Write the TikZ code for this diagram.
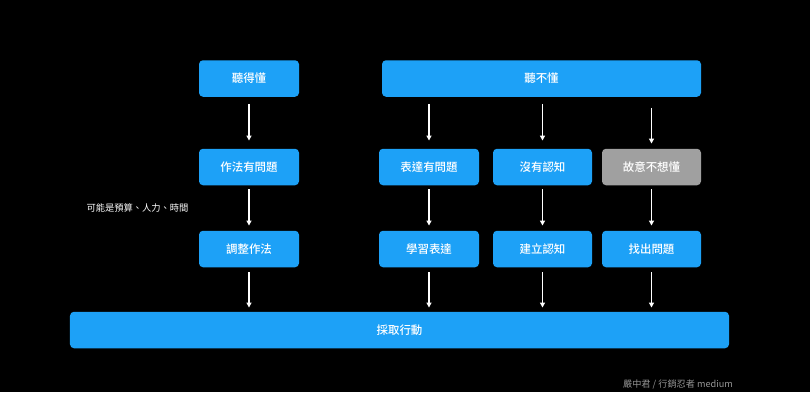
\documentclass[tikz,border=0pt]{standalone}
\usepackage{fontspec}
\setmainfont{Noto Sans CJK TC}
\newfontfamily\medfont{Noto Sans CJK TC Medium}
\usetikzlibrary{arrows.meta}
\definecolor{boxblue}{RGB}{29,161,247}
\definecolor{boxgray}{RGB}{160,160,160}
\definecolor{footgray}{RGB}{150,150,150}
\begin{document}
\begin{tikzpicture}[x=1bp,y=-1bp,
  blk/.style={fill=boxblue,rounded corners=4bp,inner sep=0pt,minimum height=36.5bp,
    text=white,font=\fontsize{11.5}{13}\selectfont\medfont},
  grayblk/.style={blk,fill=boxgray},
  arr/.style={draw=white,line width=1.2bp,-{Triangle[width=5bp,length=5bp]}}]
\fill[black] (0,0) rectangle (810,392);
\useasboundingbox (0,0) rectangle (810,392);
% top row
\node[blk,minimum width=100bp] (dong) at (249,78.5) {聽得懂};
\node[blk,minimum width=319bp] (budong) at (541.5,78.5) {聽不懂};
% middle row
\node[blk,minimum width=100bp] (zuofa) at (249,167) {作法有問題};
\node[blk,minimum width=100bp] (biaoda) at (429,167) {表達有問題};
\node[blk,minimum width=99bp] (renzhi) at (542.5,167) {沒有認知};
\node[grayblk,minimum width=99bp] (guyi) at (651.5,167) {故意不想懂};
% bottom row
\node[blk,minimum width=100bp] (tiaozheng) at (249,249) {調整作法};
\node[blk,minimum width=100bp] (xuexi) at (429,249) {學習表達};
\node[blk,minimum width=99bp] (jianli) at (542.5,249) {建立認知};
\node[blk,minimum width=99bp] (zhaochu) at (651.5,249) {找出問題};
% action
\node[blk,minimum width=659bp] (action) at (399.5,330) {採取行動};
% side note
\node[text=white,font=\fontsize{9.3}{11}\selectfont,inner sep=0pt] (note) at (137.5,208) {可能是預算、人力、時間};
% footer
\node[text=footgray,font=\fontsize{9.2}{11}\selectfont,inner sep=0pt] (foot) at (678,384) {嚴中君 / 行銷忍者 medium};
% arrows top -> middle
\draw[arr,shorten <=7bp,shorten >=8bp] (dong) -- (zuofa);
\draw[arr,shorten <=7bp,shorten >=8bp] (budong.south -| biaoda.north) -- (biaoda.north);
\draw[arr,shorten <=7bp,shorten >=8bp] (budong.south -| renzhi.north) -- (renzhi.north);
\draw[arr,shorten <=11bp,shorten >=5bp] (budong.south -| guyi.north) -- (guyi.north);
% middle -> bottom
\draw[arr,shorten <=4bp,shorten >=5bp] (zuofa) -- (tiaozheng);
\draw[arr,shorten <=4bp,shorten >=5bp] (biaoda) -- (xuexi);
\draw[arr,shorten <=4bp,shorten >=5bp] (renzhi) -- (jianli);
\draw[arr,shorten <=4bp,shorten >=5bp] (guyi) -- (zhaochu);
% bottom -> action
\draw[arr,shorten <=5bp,shorten >=4bp] (tiaozheng.south) -- (action.north -| tiaozheng.south);
\draw[arr,shorten <=5bp,shorten >=4bp] (xuexi.south) -- (action.north -| xuexi.south);
\draw[arr,shorten <=5bp,shorten >=4bp] (jianli.south) -- (action.north -| jianli.south);
\draw[arr,shorten <=5bp,shorten >=4bp] (zhaochu.south) -- (action.north -| zhaochu.south);
\end{tikzpicture}
\end{document}
